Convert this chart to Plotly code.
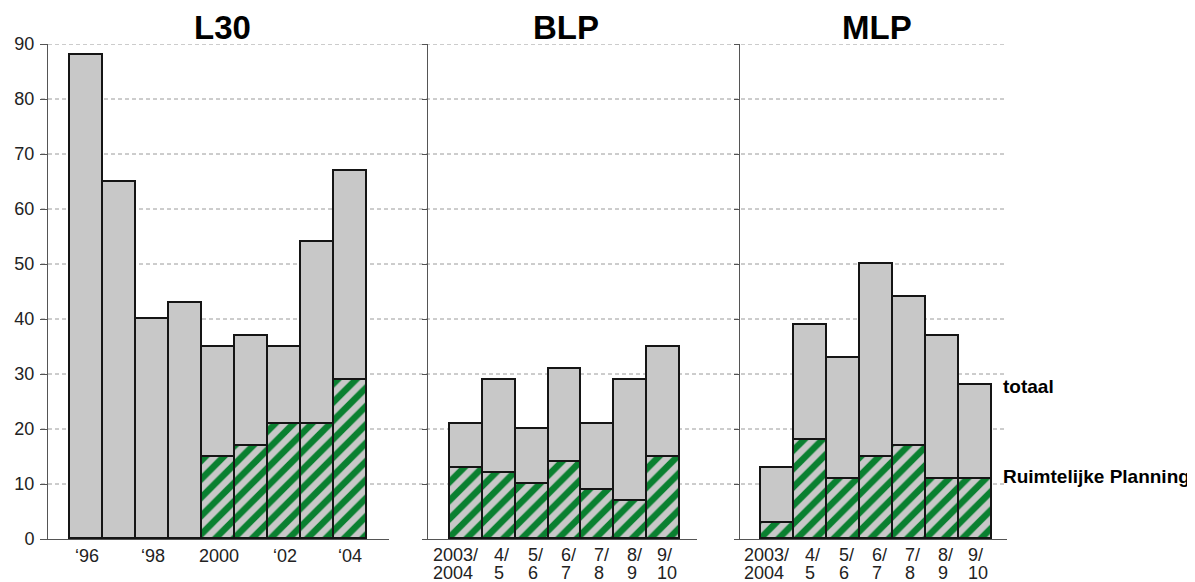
import plotly.graph_objects as go

# ---- data ----
l30_line1 = ["‘96", "", "‘98", "", "2000", "", "‘02", "", "‘04"]
l30_totaal = [88, 65, 40, 43, 35, 37, 35, 54, 67]
l30_ruimte = [None, None, None, None, 15, 17, 21, 21, 29]

blp_line1 = ["2003/", "4/", "5/", "6/", "7/", "8/", "9/"]
blp_line2 = ["2004", "5", "6", "7", "8", "9", "10"]
blp_totaal = [21, 29, 20, 31, 21, 29, 35]
blp_ruimte = [13, 12, 10, 14, 9, 7, 15]

mlp_line1 = ["2003/", "4/", "5/", "6/", "7/", "8/", "9/"]
mlp_line2 = ["2004", "5", "6", "7", "8", "9", "10"]
mlp_totaal = [13, 39, 33, 50, 44, 37, 28]
mlp_ruimte = [3, 18, 11, 15, 17, 11, 11]

panel_titles = ["L30", "BLP", "MLP"]
y_ticks = [0, 10, 20, 30, 40, 50, 60, 70, 80, 90]

# ---- style ----
OFF = 8                      # page body margin
W, H = 1195 - OFF, 582 - OFF
GRAY = "#c8c8c8"
GREEN = "#0a8030"
EDGE = "#151515"
AXIS = "#555555"
TXT = "#222222"
FONT = "Arial, Liberation Sans, sans-serif"
LABEL_SHIFT = [-35, -7, -6, -6, -6, -6, -9]   # px, left edge of two-line labels

def px(x):
    return (x - OFF) / W

def py(y):
    return 1 - (y - OFF) / H

panels = [
    (l30_line1, None, l30_totaal, l30_ruimte, "x", "y", (48, 389), (-1.167, 9.167)),
    (blp_line1, blp_line2, blp_totaal, blp_ruimte, "x2", "y2", (428, 697), (-1.169, 7.017)),
    (mlp_line1, mlp_line2, mlp_totaal, mlp_ruimte, "x3", "y3", (740, 1007), (-1.136, 6.955)),
]

fig = go.Figure()
layout_axes = {}
annotations = []
ydom = [py(539), py(44)]

for i, (l1, l2, tot, ruim, xa, ya, dom, rng) in enumerate(panels):
    xs = list(range(len(tot)))
    rest = [t - (r or 0) for t, r in zip(tot, ruim)]
    fig.add_trace(go.Bar(
        x=xs, y=ruim, xaxis=xa, yaxis=ya, width=1,
        marker=dict(color=GRAY, line=dict(color=EDGE, width=1.8),
                    pattern=dict(shape="/", fgcolor=GREEN, bgcolor=GRAY,
                                 size=13, solidity=0.5, fillmode="replace")),
        showlegend=False, hoverinfo="skip"))
    fig.add_trace(go.Bar(
        x=xs, y=rest, xaxis=xa, yaxis=ya, width=1,
        marker=dict(color=GRAY, line=dict(color=EDGE, width=1.8)),
        showlegend=False, hoverinfo="skip"))
    n = "" if i == 0 else str(i + 1)
    layout_axes["xaxis" + n] = dict(
        domain=[px(dom[0]), px(dom[1])], range=list(rng), anchor=ya, automargin=False,
        showgrid=False, zeroline=False, showline=True, linecolor=AXIS, linewidth=1,
        showticklabels=False, ticks="", fixedrange=True)
    layout_axes["yaxis" + n] = dict(
        domain=ydom, range=[0, 90], anchor=xa, automargin=False,
        showgrid=False, zeroline=False, showline=True, linecolor=AXIS, linewidth=1,
        tickmode="array", tickvals=y_ticks, ticks="outside", ticklen=7 if i == 0 else 5,
        tickcolor=AXIS, showticklabels=(i == 0), ticklabelstandoff=2,
        tickfont=dict(family=FONT, size=18, color=TXT), fixedrange=True)
    # category labels
    for k, lab in enumerate(l1):
        if not lab:
            continue
        if l2 is None:
            annotations.append(dict(text=lab, x=k, xref=xa, y=py(556), yref="paper",
                                    showarrow=False, xanchor="center", yanchor="middle",
                                    font=dict(family=FONT, size=18, color=TXT)))
        else:
            for txt, yc in ((lab, 555), (l2[k], 573)):
                annotations.append(dict(text=txt, x=k, xref=xa, xshift=LABEL_SHIFT[k],
                                        y=py(yc), yref="paper", showarrow=False,
                                        xanchor="left", yanchor="middle",
                                        font=dict(family=FONT, size=18, color=TXT)))

shapes = []
for v in y_ticks[1:]:
    shapes.append(dict(type="line", xref="paper", yref="y", x0=px(41), x1=px(1005),
                       y0=v, y1=v, layer="below",
                       line=dict(color="#9a9a9a", width=1, dash="4px,3px")))

title_x = [222, 566, 877]
for t, xc in zip(panel_titles, title_x):
    annotations.append(dict(text="<b>" + t + "</b>", x=px(xc), y=1, xref="paper", yref="paper",
                            showarrow=False, xanchor="center", yanchor="top", borderpad=0,
                            font=dict(family=FONT, size=33, color="#000000")))
annotations.append(dict(text="<b>totaal</b>", x=px(1001), y=py(386), xref="paper", yref="paper",
                        showarrow=False, xanchor="left", yanchor="middle",
                        font=dict(family=FONT, size=19, color="#000000")))
annotations.append(dict(text="<b>Ruimtelijke Planning</b>", x=px(1001), y=py(477), xref="paper", yref="paper",
                        showarrow=False, xanchor="left", yanchor="middle",
                        font=dict(family=FONT, size=19, color="#000000")))

fig.update_layout(
    width=W, height=H, margin=dict(l=0, r=0, t=0, b=0, autoexpand=False),
    paper_bgcolor="white", plot_bgcolor="white",
    barmode="stack", bargap=0,
    shapes=shapes, annotations=annotations,
    font=dict(family=FONT),
    **layout_axes)

fig.write_html("out.html", config={"displayModeBar": False})
